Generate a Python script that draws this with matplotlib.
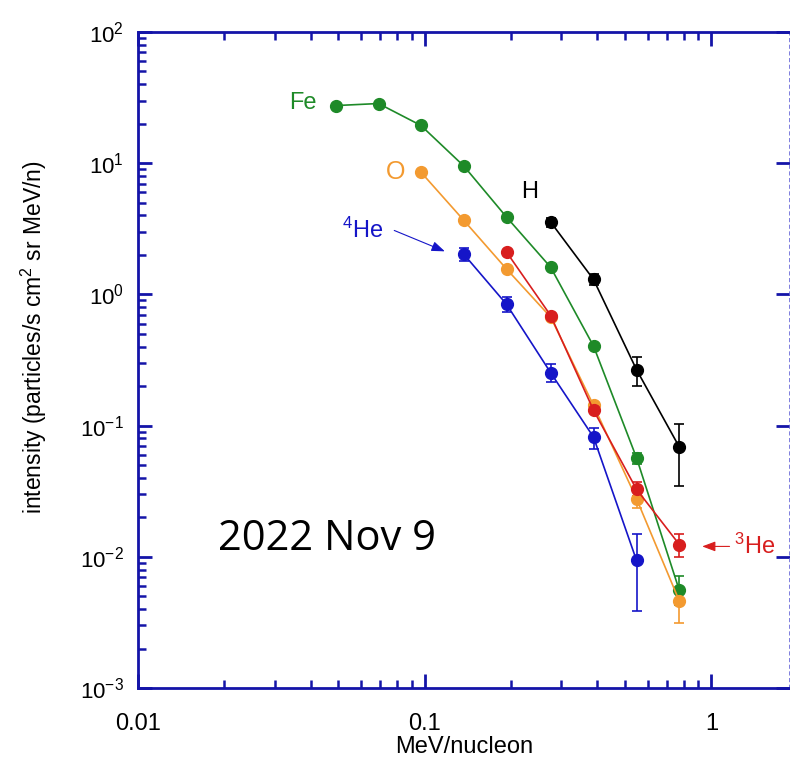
import matplotlib
matplotlib.use("Agg")
import matplotlib.pyplot as plt
import numpy as np

plt.rcParams["font.family"] = ["Liberation Sans", "DejaVu Sans"]
plt.rcParams["mathtext.default"] = "regular"

# energy bins (MeV/nucleon)
x_fe = [0.049, 0.069, 0.097, 0.137, 0.193, 0.275, 0.388, 0.548, 0.773]
y_fe = [27.5, 28.5, 19.4, 9.5, 3.88, 1.61, 0.404, 0.0569, 0.00554]
lo_fe = [27.5, 28.5, 19.4, 9.5, 3.88, 1.61, 0.39, 0.051, 0.0043]
hi_fe = [27.5, 28.5, 19.4, 9.5, 3.88, 1.61, 0.42, 0.062, 0.0071]

x_o = [0.097, 0.137, 0.193, 0.275, 0.388, 0.548, 0.773]
y_o = [8.55, 3.66, 1.56, 0.671, 0.1426, 0.0277, 0.0046]
lo_o = [8.55, 3.66, 1.56, 0.671, 0.137, 0.0237, 0.00313]
hi_o = [8.55, 3.66, 1.56, 0.671, 0.149, 0.031, 0.0055]

x_h = [0.275, 0.388, 0.548, 0.773]
y_h = [3.56, 1.30, 0.267, 0.0686]
lo_h = [3.25, 1.18, 0.201, 0.0344]
hi_h = [3.85, 1.42, 0.333, 0.102]

x_he4 = [0.137, 0.193, 0.275, 0.388, 0.548]
y_he4 = [2.02, 0.84, 0.253, 0.0817, 0.0094]
lo_he4 = [1.80, 0.74, 0.215, 0.0667, 0.00384]
hi_he4 = [2.27, 0.95, 0.296, 0.0957, 0.0148]

x_he3 = [0.193, 0.275, 0.388, 0.548, 0.773]
y_he3 = [2.10, 0.69, 0.131, 0.0327, 0.0124]
lo_he3 = [2.10, 0.66, 0.124, 0.029, 0.0099]
hi_he3 = [2.10, 0.72, 0.139, 0.0371, 0.015]

AXC = "#1414a8"
series = [
    (x_fe, y_fe, lo_fe, hi_fe, "#1e8a28"),
    (x_o, y_o, lo_o, hi_o, "#f39a30"),
    (x_he3, y_he3, lo_he3, hi_he3, "#d81e1e"),
    (x_he4, y_he4, lo_he4, hi_he4, "#1515c8"),
    (x_h, y_h, lo_h, hi_h, "#000000"),
]

fig = plt.figure(figsize=(7.9, 7.62), dpi=100)
ax = fig.add_axes([0.1747, 0.0971, 0.8253, 0.8609])

for x, y, lo, hi, c in series:
    y = np.array(y)
    yerr = [y - np.array(lo), np.array(hi) - y]
    ax.errorbar(x, y, yerr=yerr, color=c, marker="o", markersize=8.5,
                linewidth=1.2, elinewidth=1.2, capsize=3.5, capthick=1.2)

ax.set_xscale("log")
ax.set_yscale("log")
ax.set_xlim(0.01, 1.88)
ax.set_ylim(1e-3, 1e2)

# axes styling
for side in ["left", "bottom", "top"]:
    ax.spines[side].set_color(AXC)
    ax.spines[side].set_linewidth(2)
ax.spines["right"].set_color("#6a6ad8")
ax.spines["right"].set_linewidth(1.2)
ax.spines["right"].set_linestyle((0, (1.5, 2.5)))

ax.tick_params(axis="both", which="major", direction="in", length=10, width=2,
               color=AXC, labelcolor="black")
ax.tick_params(axis="both", which="minor", direction="in", length=6, width=1.8,
               color=AXC)
ax.tick_params(axis="x", which="major", labelsize=17, pad=18)
ax.tick_params(axis="y", which="major", labelsize=16, pad=10)
ax.tick_params(axis="x", top=True, which="both")
ax.tick_params(axis="y", which="major", right=True)
ax.tick_params(axis="y", which="minor", right=False)
ax.set_xticks([0.01, 0.1, 1])
ax.set_xticklabels(["0.01", "0.1", "1"])

ax.set_xlabel("MeV/nucleon", fontsize=17, labelpad=1)
ax.set_ylabel("intensity (particles/s cm$^2$ sr MeV/n)", fontsize=16.5)
ax.yaxis.set_label_coords(-0.137, 0.534)

# labels
ax.text(0.0376, 28.6, "Fe", color="#1e8a28", fontsize=17, ha="center", va="center")
ax.text(0.0792, 8.5, "O", color="#f39a30", fontsize=18, ha="center", va="center")
ax.text(0.232, 6.0, "H", color="black", fontsize=17, ha="center", va="center")
ax.text(0.0608, 3.07, "$^{4}$He", color="#1515c8", fontsize=17, ha="center", va="center")
ax.text(1.42, 0.012, "$^{3}$He", color="#d81e1e", fontsize=17, ha="center", va="center")

ax.annotate("", xy=(0.120, 2.09), xytext=(0.0767, 3.13),
            arrowprops=dict(arrowstyle="-|>,head_length=0.8,head_width=0.3",
                            color="#1515c8", lw=0.8))
ax.annotate("", xy=(0.908, 0.012), xytext=(1.183, 0.012),
            arrowprops=dict(arrowstyle="-|>,head_length=0.8,head_width=0.3",
                            color="#d81e1e", lw=0.8))

ax.text(0.019, 0.0136, "2022 Nov 9", fontsize=30, family=["Open Sans", "DejaVu Sans"],
        ha="left", va="center")

fig.savefig("out.png", dpi=100)
